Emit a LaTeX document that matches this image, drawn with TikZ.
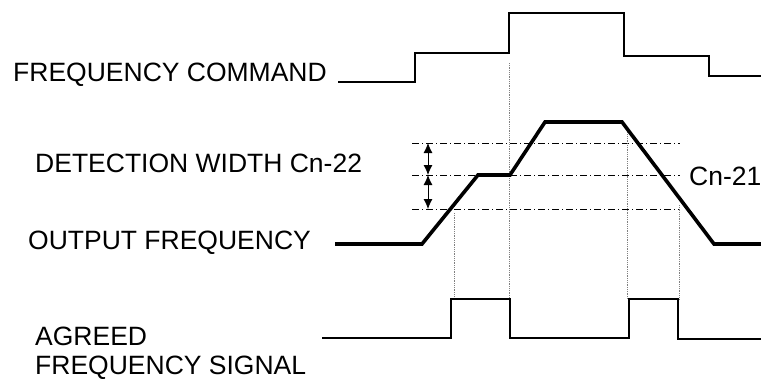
\documentclass[tikz,border=0pt]{standalone}
\usepackage{fontspec}
\setmainfont{Liberation Sans}
\usetikzlibrary{arrows.meta}
\usetikzlibrary{positioning}
\tikzstyle{label}=[anchor=west, inner sep=0pt]
\tikzstyle{thinwave}=[line width=1.6, line join=miter]
\tikzstyle{thickwave}=[line width=3.6, line join=miter]
\tikzstyle{level}=[line width=0.8, dash pattern=on 7pt off 3pt on 1pt off 3pt]
\tikzstyle{guide}=[gray, line width=0.8, densely dotted]
\tikzstyle{width}=[{Latex[length=10pt,width=9pt]}-{Latex[length=10pt,width=9pt]}, line width=0.8]

\begin{document}
\begin{tikzpicture}[x=1pt, y=-1pt, font=\fontsize{26.5}{30}\selectfont]
    \useasboundingbox (0,0) rectangle (761,380) ;
    % labels
    \node[label] (cmd) at (13, 75) {FREQUENCY COMMAND} ;
    \node[label] (det) at (35, 163) {DETECTION WIDTH Cn-22} ;
    \node[label] (out) at (28, 243) {OUTPUT FREQUENCY} ;
    \node[label] (agr) at (35, 336) {AGREED} ;
    \node[label] (sig) at (35, 368) {FREQUENCY SIGNAL} ;
    \node[label] (cn) at (689, 176) {Cn-21} ;
    % band levels
    \coordinate (hiL) at (412, 143) ; \coordinate (hiR) at (680, 143) ;
    \coordinate (miL) at (412, 175) ; \coordinate (miR) at (680, 175) ;
    \coordinate (loL) at (412, 209) ; \coordinate (loR) at (680, 209) ;
    \draw[level] (hiL) -- (hiR) ;
    \draw[level] (miL) -- (miR) ;
    \draw[level] (loL) -- (loR) ;
    \draw[width] (428, 143) -- (428, 175) ;
    \draw[width] (428, 175) -- (428, 209) ;
    % guide lines
    \draw[guide] (454, 213) -- (454, 299) ;
    \draw[guide] (509, 63) -- (509, 299) ;
    \draw[guide] (627, 127) -- (627, 299) ;
    \draw[guide] (679, 205) -- (679, 299) ;
    % waveforms
    \draw[thinwave] (338, 82) -- (415, 82) -- (415, 53) -- (509, 53) -- (509, 13)
        -- (624, 13) -- (624, 56) -- (709, 56) -- (709, 76) -- (761, 76) ;
    \draw[thickwave] (335, 244) -- (422, 244) -- (478, 175) -- (510, 175) -- (545, 122)
        -- (622, 122) -- (714, 244) -- (761, 244) ;
    \draw[thinwave] (322, 338) -- (451, 338) -- (451, 299) -- (510, 299) -- (510, 338)
        -- (629, 338) -- (629, 299) -- (678, 299) -- (678, 339) -- (761, 339) ;
\end{tikzpicture}
\end{document}
